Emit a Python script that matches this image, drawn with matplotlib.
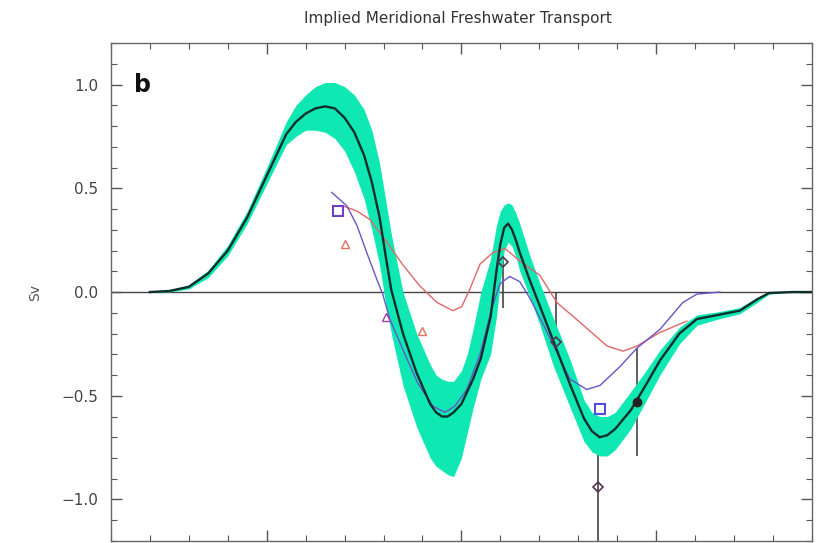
import matplotlib
matplotlib.use("Agg")
import matplotlib.pyplot as plt
from matplotlib.ticker import MultipleLocator, FuncFormatter

# ensemble mean and spread of implied freshwater transport (Sv)
lat = [-80, -75, -70, -65, -60, -55, -50, -45,
       -42.5, -40, -37.5, -35, -32.5, -30, -27.5, -25,
       -23, -21, -19.5, -18, -15, -11.5, -8, -6.5,
       -5, -3.5, -2, 0, 1.5, 3, 5, 7.5,
       9, 10, 11, 12, 13, 14, 15, 17.5,
       20, 23.5, 28, 31.5, 33.5, 35.5, 37.5, 39.5,
       43.5, 47, 51, 56, 60.5, 66, 71.5, 76,
       79, 85, 90]
mean = [0.0, 0.005, 0.025, 0.09, 0.2, 0.36, 0.56, 0.76,
        0.82, 0.86, 0.885, 0.895, 0.885, 0.84, 0.77, 0.66,
        0.53, 0.36, 0.18, 0.01, -0.2, -0.39, -0.54, -0.58,
        -0.60, -0.60, -0.58, -0.54, -0.48, -0.42, -0.32, -0.12,
        0.10, 0.23, 0.31, 0.33, 0.30, 0.25, 0.19, 0.06,
        -0.06, -0.23, -0.45, -0.61, -0.67, -0.70, -0.69, -0.66,
        -0.57, -0.46, -0.33, -0.2, -0.13, -0.11, -0.09, -0.035,
        -0.005, 0.0, 0.0]
upper = [0.0, 0.01, 0.035, 0.105, 0.225, 0.39, 0.6, 0.82,
         0.9, 0.95, 0.99, 1.01, 1.01, 0.99, 0.95, 0.88,
         0.78, 0.62, 0.45, 0.28, 0.0, -0.2, -0.35, -0.4,
         -0.42, -0.43, -0.43, -0.38, -0.3, -0.18, 0.0, 0.16,
         0.32, 0.39, 0.42, 0.43, 0.42, 0.38, 0.33, 0.18,
         0.05, -0.12, -0.33, -0.52, -0.58, -0.60, -0.60, -0.58,
         -0.48, -0.39, -0.28, -0.17, -0.11, -0.095, -0.075, -0.025,
         0.0, 0.0, 0.0]
lower = [0.0, 0.0, 0.015, 0.07, 0.175, 0.33, 0.52, 0.71,
         0.75, 0.78, 0.78, 0.77, 0.74, 0.68, 0.58, 0.45,
         0.3, 0.13, -0.05, -0.2, -0.45, -0.65, -0.8, -0.84,
         -0.86, -0.88, -0.89, -0.8, -0.68, -0.56, -0.42, -0.3,
         -0.12, 0.05, 0.2, 0.24, 0.22, 0.17, 0.1, -0.02,
         -0.15, -0.35, -0.56, -0.72, -0.77, -0.79, -0.79, -0.76,
         -0.66, -0.54, -0.4, -0.25, -0.16, -0.13, -0.105, -0.05,
         -0.01, 0.0, 0.0]

# blue model curve
blue_lat = [-33.3, -29.4, -26.8, -24.3, -21.7, -20.2, -18.4, -14.5, -11.2, -7.3, -4.2,
            -1.7, 1.4, 4.8, 7.8, 9.9, 12.4, 15.0, 17.6, 21.4, 24.5, 27.9, 32.2, 35.6,
            40.7, 45.1, 51.0, 56.9, 60.5, 66.4]
blue_val = [0.48, 0.415, 0.32, 0.19, 0.06, -0.01, -0.13, -0.3, -0.44, -0.55, -0.58,
            -0.55, -0.47, -0.3, -0.08, 0.04, 0.075, 0.05, -0.03, -0.17, -0.29, -0.42,
            -0.47, -0.45, -0.36, -0.27, -0.18, -0.05, -0.01, 0.0]

# red model curve
red_lat = [-30.4, -26.8, -23.5, -19.1, -15.0, -10.7, -6.3, -2.2, 0.1, 2.2, 4.8, 8.1,
           11.2, 15.0, 20.2, 24.5, 30.4, 37.4, 41.5, 45.1, 51.0, 57.9]
red_val = [0.415, 0.39, 0.35, 0.24, 0.13, 0.03, -0.05, -0.09, -0.07, 0.015, 0.135, 0.19,
           0.21, 0.15, 0.08, -0.05, -0.145, -0.26, -0.285, -0.26, -0.195, -0.14]

# hydrographic estimates
obs_lat = [10.7, 24.3, 35.1, 45.1]
obs_val = [0.145, -0.24, -0.94, -0.53]
obs_err_lo = [0.22, 0.12, 0.3, 0.26]
obs_err_hi = [0.22, 0.24, 0.3, 0.26]
obs_marker = ["D", "D", "D", "o"]

sq_lat = [-31.7, 35.6]
sq_val = [0.39, -0.565]
sq_col = ["#7040c0", "#5050d8"]
tri_lat = [-30.0, -19.4, -10.0]
tri_val = [0.23, -0.12, -0.19]
tri_col = ["#e07060", "#a040b0", "#e07060"]

fig = plt.figure(figsize=(8.25, 5.43), dpi=100)
ax = fig.add_axes([0.1345, 0.0037, 0.8495, 0.917])

ax.axhline(0, color="#444444", lw=1.0, zorder=1)
ax.errorbar(obs_lat, obs_val, yerr=[obs_err_lo, obs_err_hi], fmt="none",
            ecolor="#444444", elinewidth=1.2, capsize=0, zorder=2)
ax.fill_between(lat, lower, upper, color="#10e8b4", lw=0, zorder=3)
ax.plot(red_lat, red_val, color="#e06868", lw=1.0, zorder=4)
ax.plot(blue_lat, blue_val, color="#6655cc", lw=1.0, zorder=4)
ax.plot(lat, mean, color="#0f2f2a", lw=1.7, zorder=5)

for x, y, m in zip(obs_lat, obs_val, obs_marker):
    if m == "o":
        ax.plot(x, y, "o", ms=6, color="#202020", zorder=6)
    else:
        ax.plot(x, y, "D", ms=5, mfc="none", mec="#553355", mew=1.2, zorder=6)
for x, y, c in zip(sq_lat, sq_val, sq_col):
    ax.plot(x, y, "s", ms=7, mfc="none", mec=c, mew=1.5, zorder=6)
for x, y, c in zip(tri_lat, tri_val, tri_col):
    ax.plot(x, y, "^", ms=6, mfc="none", mec=c, mew=1.0, zorder=6)

ax.set_xlim(-90, 90)
ax.set_ylim(-1.2, 1.2)
ax.xaxis.set_major_locator(MultipleLocator(50))
ax.xaxis.set_minor_locator(MultipleLocator(10))
ax.yaxis.set_major_locator(MultipleLocator(0.5))
ax.yaxis.set_minor_locator(MultipleLocator(0.1))
ax.yaxis.set_major_formatter(FuncFormatter(lambda v, p: f"{v:.1f}".replace("-", "\u2212")))
ax.tick_params(which="both", direction="in", top=True, right=True,
               color="#555555", labelbottom=False, labelsize=11, labelcolor="#444444")
ax.tick_params(which="major", length=8, width=1.0, pad=9)
ax.tick_params(which="minor", length=4, width=0.8)
for s in ax.spines.values():
    s.set_color("#666666")
    s.set_linewidth(1.0)

ax.set_ylabel("Sv", fontsize=10, color="#555555", labelpad=14)
ax.text(-84, 1.0, "b", fontsize=17, fontweight="bold", va="center", ha="left",
        color="#111111")
fig.text(0.555, 0.966, "Implied Meridional Freshwater Transport", ha="center",
         va="center", fontsize=11, color="#333333")

fig.savefig("out.png", dpi=100)
